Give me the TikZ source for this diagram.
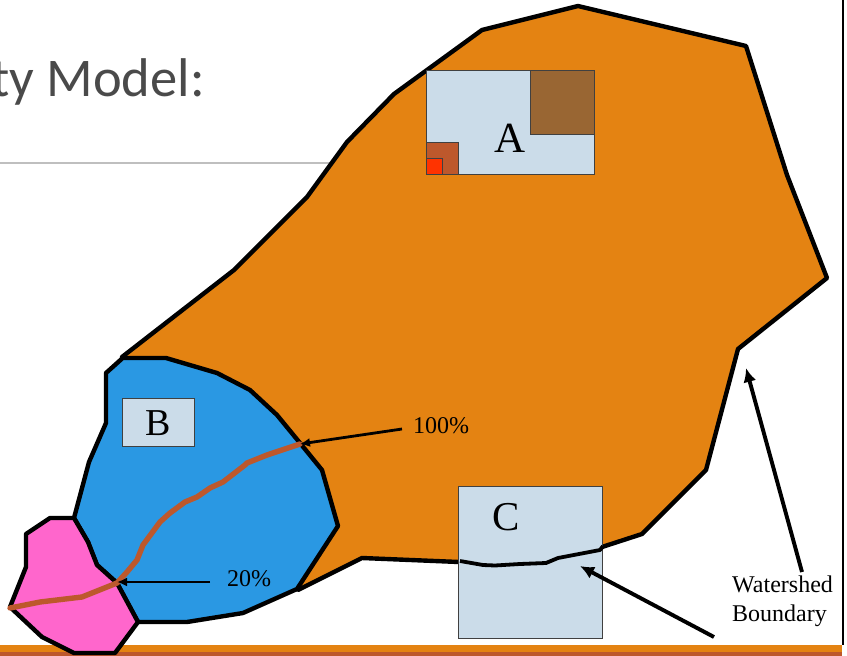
\documentclass[tikz,border=0pt]{standalone}
\usepackage{fontspec}
\setmainfont{Liberation Serif}
\newfontfamily\titlefont{Carlito}
\usetikzlibrary{arrows.meta}
\definecolor{shedorange}{HTML}{E48312}
\definecolor{barbrown}{HTML}{BD582C}
\definecolor{subblue}{HTML}{2A98E3}
\definecolor{subpink}{HTML}{FF66CC}
\definecolor{boxblue}{HTML}{CBDCE9}
\definecolor{plotbrown}{HTML}{996633}
\definecolor{plotred}{HTML}{FF3300}
\definecolor{titlegray}{HTML}{4A4A4A}
\tikzset{
  boundary/.style={draw=black,line width=4.4pt,line join=round},
  gridbox/.style={draw=black!75,line width=1.1pt},
  stream/.style={draw=barbrown,line width=5.4pt,line join=round,line cap=round},
  pointer/.style={draw=black,line width=2.8pt,-{Latex[length=10pt,width=9pt]}},
  fatpointer/.style={draw=black,line width=3.9pt,-{Latex[length=14pt,width=13pt]}},
  smalllabel/.style={font=\fontsize{24}{28}\selectfont,inner sep=0pt,text=black},
}
\begin{document}
\begin{tikzpicture}[x=1pt,y=-1pt]
\useasboundingbox (0,0) rectangle (847,656);
\fill[white] (0,0) rectangle (847,656);
% slide furniture
\begin{scope}
\clip (0,0) rectangle (847,656);
\node[anchor=base east,inner sep=0pt,text=titlegray,font=\titlefont\fontsize{54.5}{60}\selectfont] (title) at (205,96) {ty Model:};
\end{scope}
\draw[draw=black!25,line width=1.3pt] (0,163) -- (340,163);
\fill[shedorange] (0,645) rectangle (842,652);
\fill[barbrown] (0,652) rectangle (842,656);
\draw[black,line width=2.8pt] (843,0) -- (843,645);
% watershed
\path[boundary,fill=shedorange] (122,357) -- (234,270) -- (307,197) -- (347,142) -- (394,94) -- (482,30) -- (578,6) -- (746,46) -- (787,175) -- (827,278) -- (738,349) -- (706,470) -- (642,534) -- (602,547) -- (600,550) -- (558,558) -- (546,563) -- (483,565) -- (459,562) -- (362,558) -- (298,590) -- cycle;
% box C, with the boundary over it
\node[gridbox,fill=boxblue,minimum width=144pt,minimum height=152pt,inner sep=0pt,anchor=north west] (boxC) at (457.7,485.7) {};
\draw[black,line width=3.8pt,line join=round] (603,546) -- (600,550) -- (558,558) -- (546,563) -- (520,564) -- (495,565.5) -- (483,565) -- (460,561);
\node[inner sep=0pt,font=\fontsize{41}{45}\selectfont] (labelC) at (506,517) {C};
% box A
\node[gridbox,fill=boxblue,minimum width=168pt,minimum height=104pt,inner sep=0pt,anchor=north west] (boxA) at (425.7,69.7) {};
\node[gridbox,fill=plotbrown,minimum width=64pt,minimum height=64pt,inner sep=0pt,anchor=north west] (plotA) at (529.7,69.7) {};
\node[gridbox,fill=barbrown,minimum width=32pt,minimum height=32pt,inner sep=0pt,anchor=north west] (plotB) at (425.7,141.7) {};
\node[gridbox,fill=plotred,minimum width=16pt,minimum height=16pt,inner sep=0pt,anchor=north west] (plotC) at (425.7,157.7) {};
\node[inner sep=0pt,font=\fontsize{43}{47}\selectfont] (labelA) at (510,138) {A};
% subwatershed B
\path[boundary,fill=subblue] (122.7,358) -- (166,358) -- (217,373) -- (250,390) -- (277,415) -- (300,443) -- (322,470) -- (338,526) -- (297,589) -- (243,613) -- (187,622) -- (138,622) -- (117,583) -- (97,565) -- (88,542) -- (74,518) -- (89,462) -- (106,423) -- (106,373) -- cycle;
% subwatershed pink
\path[boundary,fill=subpink] (74,518) -- (50,518) -- (26,534) -- (26,567) -- (10,607) -- (42,637) -- (74,653) -- (115,653) -- (138,622) -- (117,583) -- (97,565) -- (88,542) -- cycle;
\node[gridbox,fill=boxblue,minimum width=72pt,minimum height=48pt,inner sep=0pt,anchor=north west] (boxB) at (121.7,397.7) {};
\node[inner sep=0pt,font=\fontsize{38}{42}\selectfont] (labelB) at (158,423) {B};
% stream
\coordinate (outletB) at (300,444);
\coordinate (outletP) at (117,582);
\draw[stream] (outletB) -- (267,455) -- (247,463) -- (245,465) -- (223,482) -- (210,488) -- (197,497) -- (185,502) -- (170,513) -- (160,522) -- (143,545) -- (137,560) -- (127,572) -- (117,583) -- (82,597) -- (40,602) -- (10,608);
% labels and pointers
\node[smalllabel,anchor=west] (pct100) at (413,426) {100\%};
\node[smalllabel,anchor=west] (pct20) at (227,578.5) {20\%};
\coordinate (tail100) at (402,429);
\coordinate (tail20) at (210,582);
\draw[pointer] (tail100) -- (outletB);
\draw[pointer] (tail20) -- (outletP);
\node[smalllabel,align=left,anchor=north west,font=\fontsize{24}{29}\selectfont] (wsLabel) at (732,576) {Watershed\\Boundary};
\coordinate (wsTail1) at (802,572);
\coordinate (wsHead1) at (746,368);
\coordinate (wsTail2) at (714,637);
\coordinate (wsHead2) at (580,566);
\draw[fatpointer] (wsTail1) -- (wsHead1);
\draw[fatpointer] (wsTail2) -- (wsHead2);
\end{tikzpicture}
\end{document}
